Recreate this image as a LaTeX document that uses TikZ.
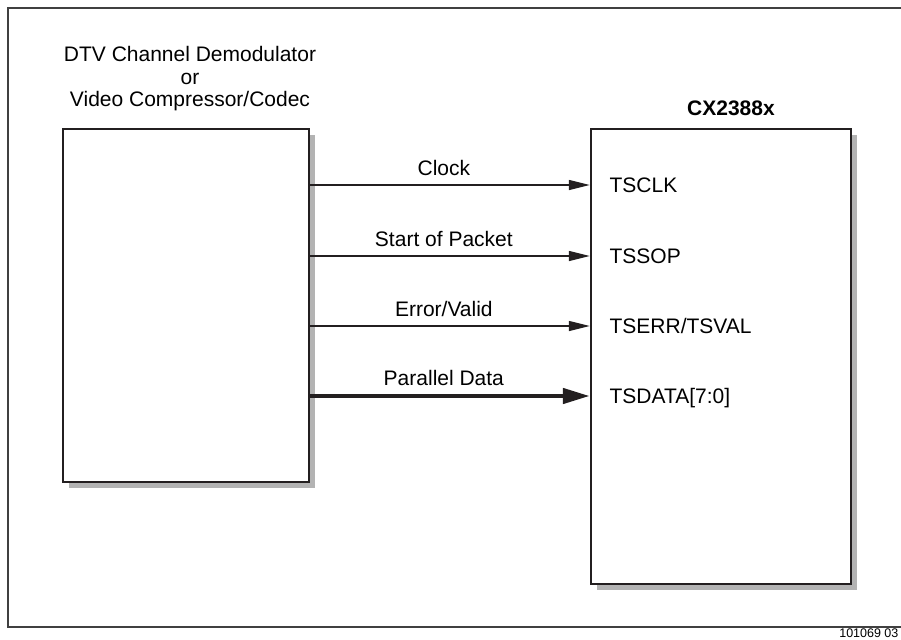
\documentclass[tikz,border=0pt]{standalone}
\usepackage{fontspec}
\setmainfont{Liberation Sans}
\usetikzlibrary{arrows.meta,positioning,shadows}
\definecolor{boxline}{HTML}{231F20}
\definecolor{shade}{HTML}{B3B3B3}
\begin{document}
\begin{tikzpicture}[x=1pt,y=-1pt,line width=1.2pt,
  every node/.style={font=\fontsize{21}{22.5}\selectfont,inner sep=0pt},
  chip/.style={draw=boxline,line width=2.4pt,fill=white,
    drop shadow={shadow xshift=6pt,shadow yshift=-6pt,fill=shade,opacity=1}},
  sig/.style={draw=boxline,line width=1.2pt,-{Triangle[length=21pt,width=10pt]}},
  bus/.style={draw=boxline,line width=4.5pt,-{Triangle[length=27pt,width=15pt]}},
  port/.style={anchor=west,text height=15pt,text depth=0pt},
  sigtext/.style={pos=.478,above=9pt,text depth=0pt}]
  \path[use as bounding box] (0,0) rectangle (901,639);
  \draw[black!75] (901,8) -- (8,8) -- (8,627) -- (901,627);
  \node[chip,minimum width=246pt,minimum height=353pt] (demod) at (186,305.5) {};
  \node[chip,minimum width=260pt,minimum height=455pt] (cx) at (721,356.5) {};
  \node[align=center] (title) at (190,79) {DTV Channel Demodulator\\or\\Video Compressor/Codec};
  \node[font=\fontsize{21}{22.5}\selectfont\bfseries,anchor=base] (chipname) at (731,116) {CX2388x};
  \node[port] (tsclk) at (609,185) {TSCLK};
  \node[port] (tssop) at (609,256) {TSSOP};
  \node[port] (tserr) at (609,326) {TSERR/TSVAL};
  \node[port] (tsdata) at (609,396) {TSDATA[7:0]};
  \draw[sig] (demod.east |- tsclk.west) -- node[sigtext] {Clock} (cx.west |- tsclk.west);
  \draw[sig] (demod.east |- tssop.west) -- node[sigtext] {Start of Packet} (cx.west |- tssop.west);
  \draw[sig] (demod.east |- tserr.west) -- node[sigtext] {Error/Valid} (cx.west |- tserr.west);
  \draw[bus] (demod.east |- tsdata.west) -- node[sigtext,above=8pt] {Parallel Data} (cx.west |- tsdata.west);
  \node[font=\fontsize{12.5}{15}\selectfont,anchor=base east] (fignum) at (899,637) {101069 03};
\end{tikzpicture}
\end{document}
